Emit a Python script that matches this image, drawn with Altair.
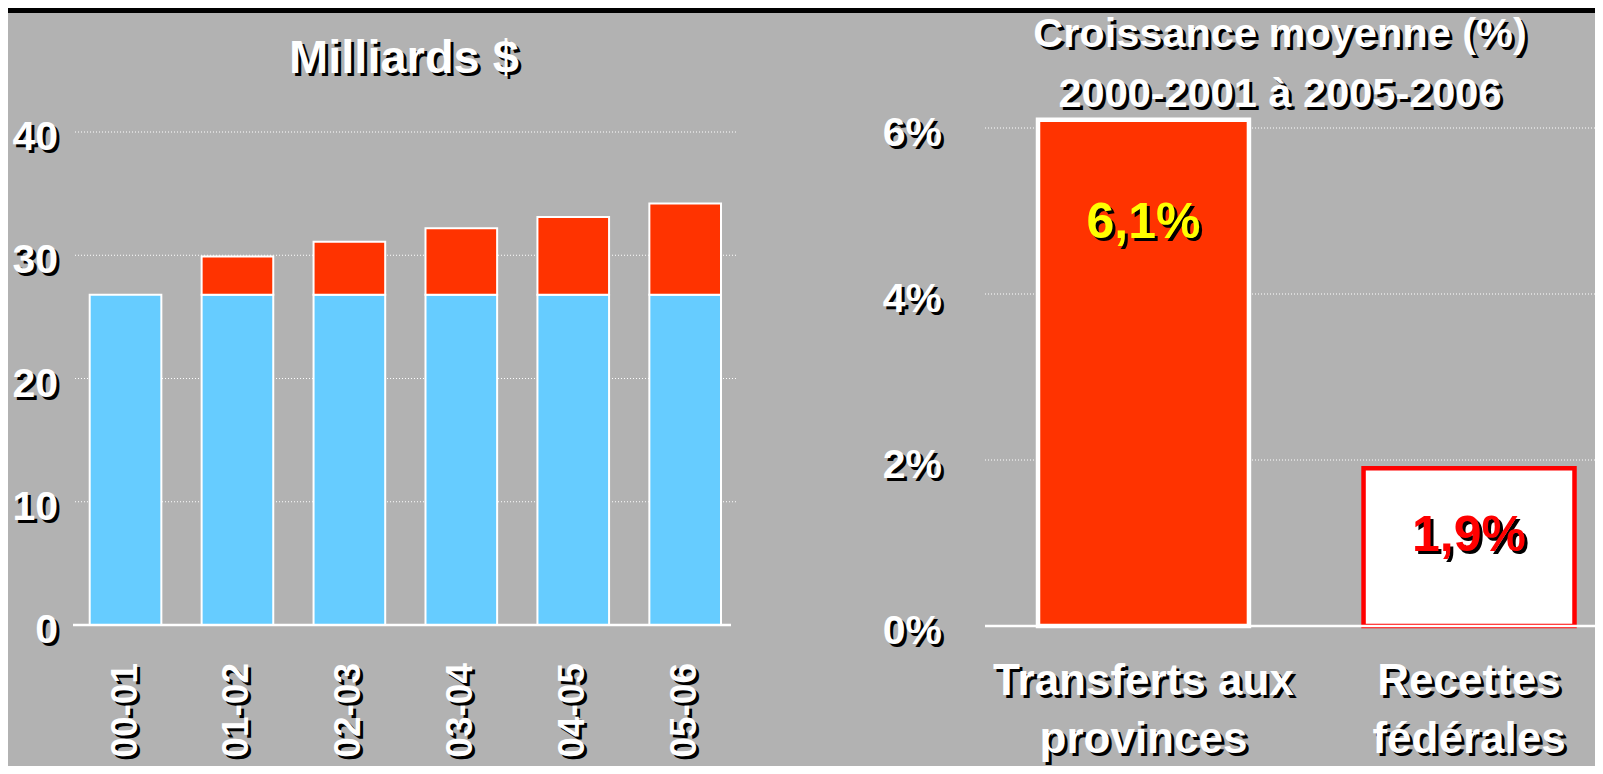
import altair as alt
import pandas as pd

# ---------------- data ----------------
years = ["00-01", "01-02", "02-03", "03-04", "04-05", "05-06"]
base_vals = [26.8, 26.8, 26.8, 26.8, 26.8, 26.8]
total_vals = [26.8, 29.9, 31.1, 32.2, 33.1, 34.2]
left_ticks = [0, 10, 20, 30, 40]

growth_cats = ["Transferts aux provinces", "Recettes fédérales"]
growth_axis_labels = ["Transferts aux\nprovinces", "Recettes\nfédérales"]
growth_vals = [6.1, 1.9]
right_ticks = [0, 2, 4, 6]

left_title = "Milliards $"
right_title = "Croissance moyenne (%)\n2000-2001 à 2005-2006"

# ---------------- style ----------------
FONT = "Liberation Sans, Arial, sans-serif"
BG = "#B2B2B2"
BLUE = "#66CCFF"
RED = "#FF3300"
SH = 3  # shadow offset

LY = alt.Scale(domain=[0, 40], range=[617, 124], nice=False, zero=False)
LX = alt.Scale(type="band", domain=years, range=[81.7, 713], paddingInner=0.36, paddingOuter=0)
RY = alt.Scale(domain=[0, 6], range=[618, 120], nice=False, zero=False)
RX = alt.Scale(type="band", domain=growth_cats, range=[1030, 1566.5], paddingInner=0.352, paddingOuter=0)

# ---------------- tables ----------------
seg_rows = []
for yr, b, t in zip(years, base_vals, total_vals):
    seg_rows.append({"year": yr, "y0": 0.0, "y1": b, "seg": "base"})
    if t > b:
        seg_rows.append({"year": yr, "y0": b, "y1": t, "seg": "increase"})
df_seg = pd.DataFrame(seg_rows)
df_years = pd.DataFrame({"year": years})
df_lticks = pd.DataFrame({"v": left_ticks, "lab": [str(v) for v in left_ticks]})
df_lgrid = df_lticks[df_lticks.v > 0]
df_lzero = df_lticks[df_lticks.v == 0]

df_growth = pd.DataFrame({
    "cat": growth_cats,
    "v": growth_vals,
    "axlab": growth_axis_labels,
    "lab": [f"{v:.1f}".replace(".", ",") + "%" for v in growth_vals],
})
df_rticks = pd.DataFrame({"v": right_ticks, "lab": [f"{v}%" for v in right_ticks]})
df_rgrid = df_rticks[df_rticks.v > 0]
df_rzero = df_rticks[df_rticks.v == 0]
df_one = pd.DataFrame({"t": [left_title], "t2": [right_title]})


def shadow_text(df, enc, color, sdx=SH, sdy=SH, dx=0, dy=0, **mk):
    sh = alt.Chart(df).mark_text(color="black", dx=dx + sdx, dy=dy + sdy, **mk).encode(**enc)
    fg = alt.Chart(df).mark_text(color=color, dx=dx, dy=dy, **mk).encode(**enc)
    return [sh, fg]


layers = []

# top black band
layers.append(
    alt.Chart(df_one).mark_rect(color="black").encode(
        x=alt.value(0), x2=alt.value(1587), y=alt.value(0), y2=alt.value(5)
    )
)

# ---------- left panel ----------
layers.append(
    alt.Chart(df_lgrid).mark_rule(color="white", strokeDash=[1, 2], strokeWidth=1.2).encode(
        y=alt.Y("v:Q", scale=LY, axis=None), x=alt.value(67), x2=alt.value(728)
    )
)
layers.append(
    alt.Chart(df_seg).mark_bar(stroke="white", strokeWidth=2).encode(
        x=alt.X("year:N", scale=LX, axis=None),
        y=alt.Y("y0:Q", scale=LY, axis=None),
        y2="y1:Q",
        fill=alt.Fill("seg:N", scale=alt.Scale(domain=["base", "increase"], range=[BLUE, RED]), legend=None),
    )
)
layers.append(
    alt.Chart(df_lzero).mark_rule(color="white", strokeWidth=2.5).encode(
        y=alt.Y("v:Q", scale=LY, axis=None), x=alt.value(65), x2=alt.value(723)
    )
)
layers += shadow_text(
    df_lticks,
    dict(y=alt.Y("v:Q", scale=LY, axis=None), x=alt.value(50), text="lab:N"),
    "white", dy=6, align="right", baseline="middle", font=FONT, fontSize=41, fontWeight="bold",
)
layers += shadow_text(
    df_years,
    dict(x=alt.X("year:N", scale=LX, axis=None), y=alt.value(655), text="year:N"),
    "white", sdx=-SH, sdy=SH, angle=270, align="right", baseline="middle",
    font=FONT, fontSize=37, fontWeight="bold",
)
layers += shadow_text(
    df_one,
    dict(x=alt.value(396), y=alt.value(51), text="t:N"),
    "white", align="center", baseline="middle", font=FONT, fontSize=47, fontWeight="bold",
)

# ---------- right panel ----------
layers.append(
    alt.Chart(df_rgrid).mark_rule(color="white", strokeDash=[1, 2], strokeWidth=1.2).encode(
        y=alt.Y("v:Q", scale=RY, axis=None), x=alt.value(977), x2=alt.value(1587)
    )
)
layers.append(
    alt.Chart(df_growth).mark_bar(strokeWidth=4.5).encode(
        x=alt.X("cat:N", scale=RX, axis=None),
        y=alt.Y("v:Q", scale=RY, axis=None),
        y2=alt.datum(0),
        fill=alt.Fill("cat:N", scale=alt.Scale(domain=growth_cats, range=[RED, "#FFFFFF"]), legend=None),
        stroke=alt.Stroke("cat:N", scale=alt.Scale(domain=growth_cats, range=["#FFFFFF", "#FF0000"]), legend=None),
    )
)
layers.append(
    alt.Chart(df_rzero).mark_rule(color="white", strokeWidth=2.5).encode(
        y=alt.Y("v:Q", scale=RY, axis=None), x=alt.value(977), x2=alt.value(1587)
    )
)
layers += shadow_text(
    df_rticks,
    dict(y=alt.Y("v:Q", scale=RY, axis=None), x=alt.value(934), text="lab:N"),
    "white", dy=6, align="right", baseline="middle", font=FONT, fontSize=41, fontWeight="bold",
)
value_label_y = [215, 528]
value_label_color = ["#FFFF00", "#FF0000"]
for i in range(len(growth_cats)):
    layers += shadow_text(
        df_growth.iloc[[i]],
        dict(x=alt.X("cat:N", scale=RX, axis=None), y=alt.value(value_label_y[i]), text="lab:N"),
        value_label_color[i], align="center", baseline="middle", font=FONT, fontSize=50, fontWeight="bold",
    )
layers += shadow_text(
    df_growth,
    dict(x=alt.X("cat:N", scale=RX, axis=None), y=alt.value(674), text="axlab:N"),
    "white", align="center", baseline="middle", lineBreak="\n", lineHeight=58,
    font=FONT, fontSize=44, fontWeight="bold",
)
layers += shadow_text(
    df_one,
    dict(x=alt.value(1272), y=alt.value(27), text="t2:N"),
    "white", align="center", baseline="middle", lineBreak="\n", lineHeight=60,
    font=FONT, fontSize=41.5, fontWeight="bold",
)

chart = (
    alt.layer(*layers)
    .resolve_scale(x="independent", y="independent", fill="independent", stroke="independent")
    .properties(
        width=1587,
        height=758,
        autosize=alt.AutoSizeParams(type="none"),
        padding=0,
        background=BG,
    )
    .configure_view(stroke=None)
)

chart.save("out.html", embed_options={"renderer": "svg", "actions": False})
